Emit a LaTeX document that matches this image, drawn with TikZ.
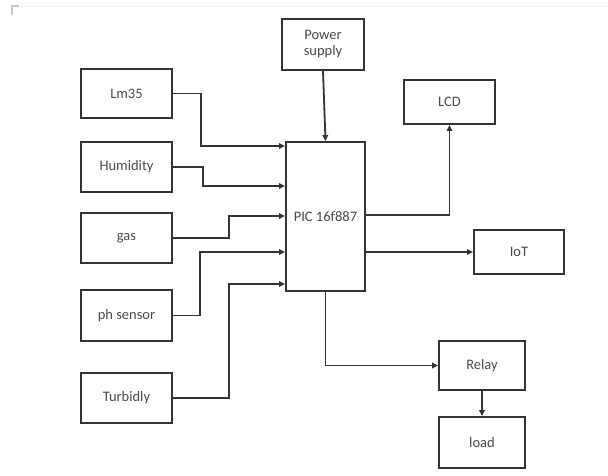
\documentclass[tikz,border=0pt]{standalone}
\usepackage{fontspec}
\setmainfont{Carlito}
\usetikzlibrary{arrows.meta}
\definecolor{linec}{HTML}{333333}
\definecolor{textc}{HTML}{4A4A4A}
\tikzset{
  blk/.style={draw=linec, line width=1.9pt, rectangle, inner sep=0pt,
    minimum width=91pt, font=\fontsize{14.5}{16}\selectfont, text=textc, align=center},
  conn/.style={draw=linec, line width=1.8pt, -{Triangle[length=6pt,width=5.5pt]}},
}
\begin{document}
\begin{tikzpicture}[x=1pt,y=-1pt]
\useasboundingbox (0,0) rectangle (608,475);
\fill[white] (0,0) rectangle (608,475);
% faint corner mark
\draw[gray!45, line width=2pt] (12,15) -- (12,6) -- (19,6);
\draw[gray!10, line width=1pt] (20,6) -- (608,6);

\node[blk, minimum width=82pt, minimum height=51pt] (power) at (323,44.5) {Power\\supply};
\node[blk, minimum height=49pt] (lm35) at (126.5,93.5) {Lm35};
\node[blk, minimum height=50pt] (hum) at (126.5,167) {Humidity};
\node[blk, minimum height=50pt] (gas) at (126.5,238) {gas};
\node[blk, minimum height=51pt] (ph) at (126.5,315.5) {ph sensor};
\node[blk, minimum height=50pt] (turb) at (126.5,398) {Turbidly};
\node[blk, minimum width=79pt, minimum height=149pt] (pic) at (325.5,216.5) {PIC 16f887};
\node[blk, minimum height=44pt] (lcd) at (449.5,102) {LCD};
\node[blk, minimum width=90pt, minimum height=44pt] (iot) at (519,252) {IoT};
\node[blk, minimum width=86pt, minimum height=49pt] (relay) at (482,365.5) {Relay};
\node[blk, minimum width=86pt, minimum height=51pt] (load) at (482,442.5) {load};

\draw[conn] (lm35.east) -- ++(28,0) |- (pic.west|-0,146);
\draw[conn] (hum.east) -- ++(30,0) |- (pic.west|-0,186);
\draw[conn] (gas.east) -- ++(56,0) |- (pic.west|-0,216);
\draw[conn] (ph.east) -- ++(27,0) |- (pic.west|-0,252);
\draw[conn] (turb.east) -- ++(56,0) |- (pic.west|-0,284);
\draw[conn] (power.south) -- (pic.north);
\draw[conn] (pic.east|-0,215) -| (lcd.south);
\draw[conn] (pic.east|-iot.west) -- (iot.west);
\draw[conn] (pic.south) |- (relay.west);
\draw[conn] (relay.south) -- (load.north);
\end{tikzpicture}
\end{document}
